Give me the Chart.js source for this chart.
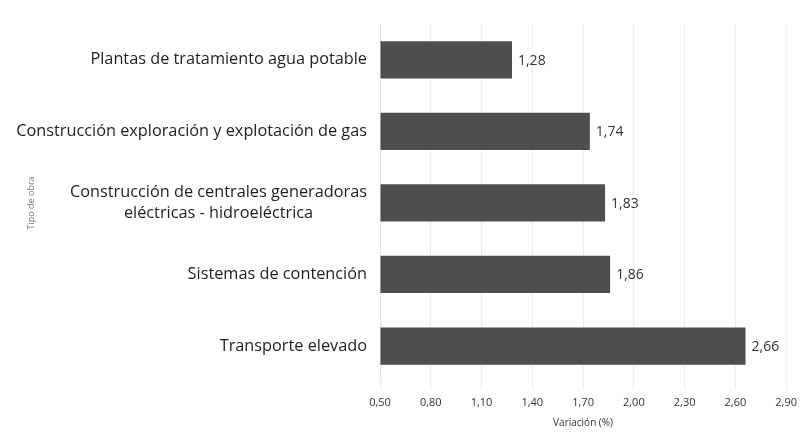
<!DOCTYPE html>
<html>
<head>
<meta charset="utf-8">
<script src="https://cdn.jsdelivr.net/npm/chart.js@4"></script>
<style>
  html, body { margin: 0; padding: 0; background: #fff; }
  #wrap { width: 803px; height: 435px; }
</style>
</head>
<body>
<div id="wrap"><canvas id="chart"></canvas></div>
<script>
// datos del gráfico
const categorias = [
  'Plantas de tratamiento agua potable',
  'Construcción exploración y explotación de gas',
  ['Construcción de centrales generadoras', 'eléctricas - hidroeléctrica'],
  'Sistemas de contención',
  'Transporte elevado'
];
const variacion = [1.28, 1.74, 1.83, 1.86, 2.66];
const ejeMin = 0.5;
const ejeMax = 2.9;
const paso = 0.3;

const coma = v => v.toFixed(2).replace('.', ',');
const fuente = "'Open Sans', 'DejaVu Sans', sans-serif";

// etiquetas de categoría a la izquierda (multi-línea centrada)
const etiquetasY = {
  id: 'etiquetasY',
  afterDraw(chart) {
    const c = chart.ctx;
    const y = chart.scales.y;
    c.save();
    c.fillStyle = '#1e1e1e';
    c.font = '16.3px ' + fuente;
    c.textBaseline = 'middle';
    categorias.forEach((lab, i) => {
      const cy = y.getPixelForTick(i);
      const xr = chart.chartArea.left - 13;
      if (Array.isArray(lab)) {
        const w = Math.max(...lab.map(l => c.measureText(l).width));
        c.textAlign = 'center';
        lab.forEach((l, k) => {
          c.fillText(l, xr - w / 2, cy + (k - (lab.length - 1) / 2) * 21);
        });
      } else {
        c.textAlign = 'right';
        c.fillText(lab, xr, cy);
      }
    });
    c.restore();
  }
};

// valores al final de cada barra
const valores = {
  id: 'valores',
  afterDatasetsDraw(chart) {
    const c = chart.ctx;
    const meta = chart.getDatasetMeta(0);
    c.save();
    c.fillStyle = '#333';
    c.font = '14px ' + fuente;
    c.textAlign = 'left';
    c.textBaseline = 'middle';
    meta.data.forEach((bar, i) => {
      c.fillText(coma(variacion[i]), bar.x + 6, bar.y + 1);
    });
    c.restore();
  }
};

new Chart(document.getElementById('chart'), {
  type: 'bar',
  data: {
    labels: categorias,
    datasets: [{
      data: variacion,
      backgroundColor: '#4e4e4e',
      borderWidth: 0,
      categoryPercentage: 1,
      barPercentage: 0.52,
      base: ejeMin
    }]
  },
  options: {
    indexAxis: 'y',
    responsive: true,
    maintainAspectRatio: false,
    animation: false,
    layout: { padding: { top: 24, right: 13, bottom: 6, left: 0 } },
    plugins: {
      legend: { display: false },
      tooltip: { enabled: false }
    },
    scales: {
      x: {
        min: ejeMin,
        max: ejeMax,
        ticks: {
          stepSize: paso,
          color: '#333',
          font: { family: fuente, size: 11 },
          padding: 6,
          callback: v => coma(v)
        },
        grid: { color: '#ececec', tickLength: 8, drawTicks: true },
        border: { display: false },
        title: {
          display: true,
          text: 'Variación (%)',
          color: '#333',
          font: { family: fuente, size: 10 },
          padding: { top: 2, bottom: 0 }
        }
      },
      y: {
        ticks: { display: false },
        grid: { display: false },
        border: { display: true, color: '#e4e4e4' },
        afterFit: s => { s.width = 380; },
        title: {
          display: true,
          text: 'Tipo de obra',
          color: '#777',
          font: { family: fuente, size: 9 },
          padding: { top: 26, bottom: 0 }
        }
      }
    }
  },
  plugins: [etiquetasY, valores]
});
</script>
</body>
</html>
